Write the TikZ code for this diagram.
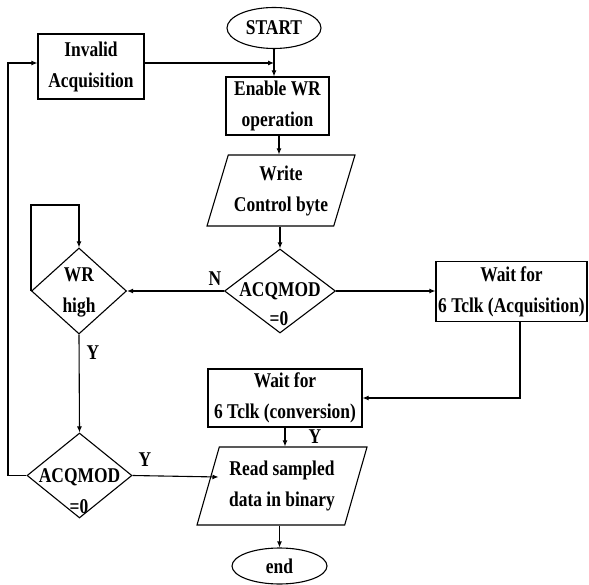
\documentclass[tikz,border=0pt]{standalone}
\usepackage{fontspec}
\setmainfont{Liberation Serif}[FakeStretch=0.83]
\usetikzlibrary{shapes.geometric,arrows.meta}
\begin{document}
\begin{tikzpicture}[x=1pt,y=-1pt,
  every node/.style={font=\fontsize{21}{31}\selectfont\bfseries, inner sep=0pt, align=center},
  shp/.style={draw, line width=1.1pt},
  box/.style={shp, rectangle},
  term/.style={shp, ellipse},
  dec/.style={shp, diamond},
  io/.style={shp, trapezium, trapezium left angle=67, trapezium right angle=113, trapezium stretches body},
  txt/.style={},
  arr/.style={line width=1.1pt, -{Latex[length=6pt,width=5pt]}},
  ln/.style={line width=1.1pt}]
\useasboundingbox (0,0) rectangle (589,585);
% nodes
\node[term, minimum width=94pt, minimum height=41pt] (start) at (274,28) {START};
\node[box, minimum width=106pt, minimum height=65pt] (invalid) at (91,66.5) {Invalid\\Acquisition};
\node[box, minimum width=103pt, minimum height=58pt] (enable) at (277.5,106) {Enable WR\\operation};
\node[io, minimum width=148pt, minimum height=71pt] (write) at (281,190.5) {Write\\Control byte};
\node[dec, minimum width=111pt, minimum height=84pt] (acq1) at (280,291) {};
\node[txt] (acq1t) at (280,291) {ACQMOD};
\node[txt] (acq1z) at (279,319) {=0};
\node[dec, minimum width=95pt, minimum height=86pt] (wr) at (79,291) {};
\node[txt] (wrt) at (79,292) {WR\\high};
\node[box, minimum width=151pt, minimum height=60pt] (waitacq) at (511.5,291.5) {Wait for\\6 Tclk (Acquisition)};
\node[box, minimum width=154pt, minimum height=58pt] (conv) at (285,398) {Wait for\\6 Tclk (conversion)};
\node[io, minimum width=170pt, minimum height=78pt, trapezium left angle=66, trapezium right angle=114] (read) at (282,486) {Read sampled\\data in binary};
\node[dec, minimum width=105pt, minimum height=85pt] (acq2) at (79.5,475.5) {};
\node[txt] (acq2t) at (79.5,477) {ACQMOD};
\node[txt] (acq2z) at (79,507) {=0};
\node[term, minimum width=95pt, minimum height=36pt] (fin) at (279.5,566) {end};
% labels
\node[txt] (lN) at (215,279) {N};
\node[txt] (lY1) at (93,353) {Y};
\node[txt] (lY2) at (315,437) {Y};
\node[txt] (lY3) at (145,460) {Y};
% junction coordinates
\coordinate (j1) at (274,63);
\coordinate (lft) at (8,63);
\coordinate (rdin) at (218.5,477);
% connectors
\draw[arr] (start.south) -- (start.south |- enable.north);
\draw[arr] (invalid.east |- j1) -- (j1);
\draw[arr] (enable.south -| 279,0) -- (write.north -| 279,0);
\draw[arr] (write.south -| acq1.north) -- (acq1.north);
\draw[arr] (acq1.west) -- (wr.east);
\draw[arr] (acq1.east) -- (acq1.east -| waitacq.west);
\draw[arr] (wr.west) -- ++(0,-86) -| (wr.north);
\draw[arr] (wr.south) -- (acq2.north);
\draw[arr] ([xshift=8.5pt]waitacq.south) |- (conv.east);
\draw[arr] (conv.south) -- (conv.south |- read.north);
\draw[arr] (acq2.east) -- (rdin);
\draw[arr] (acq2.west) -| (lft) -- (invalid.west |- lft);
\draw[arr] (read.south -| fin.north) -- (fin.north);
\end{tikzpicture}
\end{document}
